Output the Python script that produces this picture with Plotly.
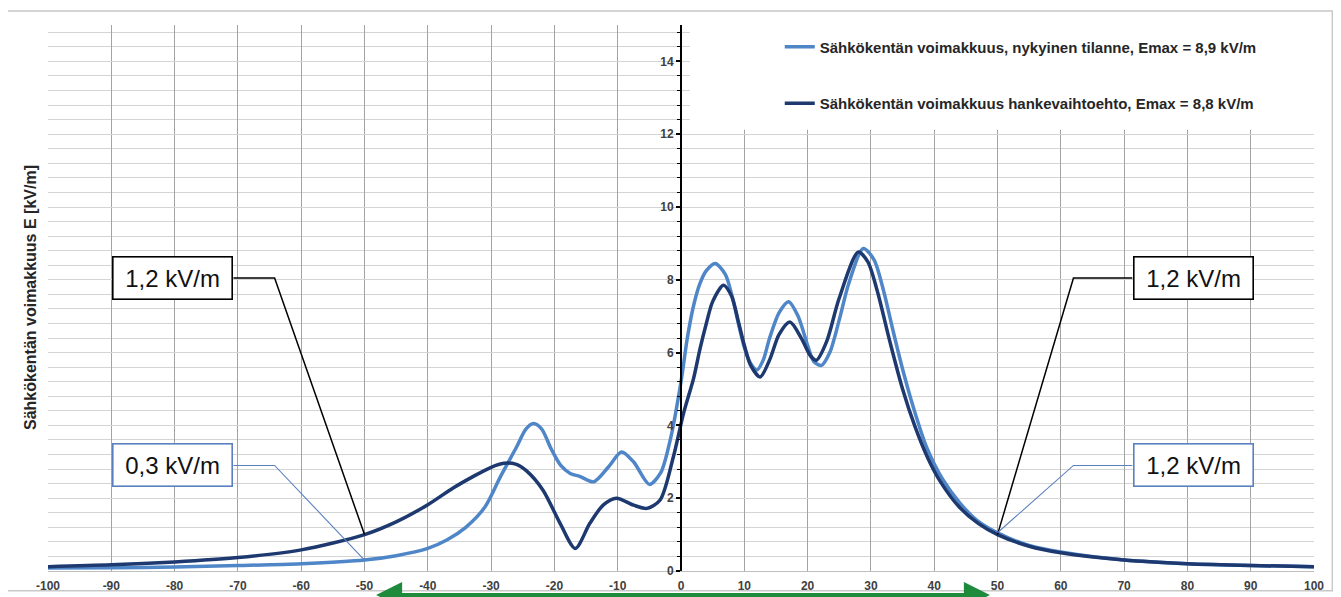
import plotly.graph_objects as go

# ---- data ----
x_current = [-100, -90, -80, -70, -60, -50, -45, -40, -37, -34, -31, -28.5, -26, -24.5, -23.3, -22, -20.5,
             -19, -17.5, -16, -13.8, -11.5, -9.4, -7.5, -5, -3.2, -1.7, 0, 1, 2, 3, 4, 5.4, 7, 8, 9, 10,
             11, 12, 13, 14, 15.5, 17, 18.5, 20, 21, 22.2, 23.5, 25, 26.5, 28.8, 30.5, 32, 33.5, 35, 36.7,
             38.8, 41.4, 44.1, 46.7, 50, 55, 60, 70, 80, 90, 100]
e_current = [0.08, 0.09, 0.11, 0.15, 0.2, 0.3, 0.42, 0.62, 0.85, 1.2, 1.75, 2.6, 3.4, 3.9, 4.05, 3.9, 3.35,
             2.9, 2.68, 2.6, 2.45, 2.85, 3.27, 3.0, 2.38, 2.7, 3.6, 5.2, 6.4, 7.3, 7.9, 8.25, 8.45, 8.15, 7.6,
             6.85, 6.15, 5.7, 5.52, 5.8, 6.4, 7.1, 7.4, 7.0, 6.2, 5.75, 5.65, 6.0, 6.9, 7.9, 8.86, 8.55, 7.7,
             6.6, 5.55, 4.5, 3.4, 2.5, 1.86, 1.4, 1.05, 0.7, 0.52, 0.3, 0.2, 0.15, 0.12]

x_project = [-100, -90, -80, -70, -60, -50, -45, -40, -36, -32.8, -30, -28, -26, -24.4, -21.8, -19.1, -16.7,
             -14.4, -12.3, -10.2, -7.5, -5.4, -3.3, -1.2, 0.4, 2, 3, 4, 5, 6.7, 8, 9, 10, 11, 12.5, 14, 15.5,
             17.2, 19, 20.5, 21.4, 23, 25, 28, 29.5, 31, 33, 35, 37, 39, 41, 44, 47, 50, 55, 60, 70, 80, 90, 100]
e_project = [0.12, 0.17, 0.25, 0.37, 0.58, 1.0, 1.35, 1.82, 2.28, 2.6, 2.85, 2.96, 2.93, 2.75, 2.22, 1.31, 0.62,
             1.31, 1.81, 2.0, 1.81, 1.72, 1.95, 3.14, 4.33, 5.3, 6.1, 6.8, 7.4, 7.85, 7.55, 6.9, 6.2, 5.65, 5.33,
             5.8, 6.5, 6.84, 6.4, 5.9, 5.79, 6.3, 7.5, 8.76, 8.5, 7.7, 6.3, 5.0, 3.95, 3.1, 2.45, 1.75, 1.3,
             1.0, 0.68, 0.5, 0.3, 0.2, 0.15, 0.12]

name_current = "Sähkökentän voimakkuus, nykyinen tilanne, Emax = 8,9 kV/m"
name_project = "Sähkökentän voimakkuus hankevaihtoehto, Emax = 8,8 kV/m"
y_title = "Sähkökentän voimakkuus E [kV/m]"

x_ticks = list(range(-100, 101, 10))
y_ticks = list(range(0, 15, 2))

callout_labels = ["1,2 kV/m", "0,3 kV/m", "1,2 kV/m", "1,2 kV/m"]

C_LIGHT = "#4f86c8"
C_DARK = "#1d3970"
C_BOXBLUE = "#5b80c0"
FONT = "Liberation Sans, Arial"

fig = go.Figure()
fig.add_trace(go.Scatter(x=x_current, y=e_current, mode="lines", name=name_current,
                         line=dict(color=C_LIGHT, width=3.5, shape="spline", smoothing=0.8),
                         legendgroup="a"))
fig.add_trace(go.Scatter(x=x_project, y=e_project, mode="lines", name=name_project,
                         line=dict(color=C_DARK, width=3.5, shape="spline", smoothing=0.8),
                         legendgroup="b"))


def val(xs, es, xv):
    return es[xs.index(xv)]


callouts = [
    (callout_labels[0], -50, val(x_project, e_project, -50), -80.3, 8.05, -64.2, "#000000", 1.5),
    (callout_labels[1], -50, val(x_current, e_current, -50), -80.3, 2.9, -64.2, C_BOXBLUE, 1.1),
    (callout_labels[2], 50, val(x_project, e_project, 50), 80.9, 8.05, 62.0, "#000000", 1.5),
    (callout_labels[3], 50, val(x_current, e_current, 50), 80.9, 2.9, 62.0, C_BOXBLUE, 1.1),
]

shapes = []
annotations = []
for text, px, py, bx, by, ex, col, lw in callouts:
    side = -1 if bx < 0 else 1
    edge = bx - side * 9.6
    shapes.append(dict(type="path", xref="x", yref="y",
                       path=f"M {edge},{by} L {ex},{by} L {px},{py}",
                       line=dict(color=col, width=lw)))
    annotations.append(dict(x=bx, y=by, xref="x", yref="y", text=text, showarrow=False,
                            font=dict(family=FONT, size=24, color="#111111"),
                            bgcolor="white", bordercolor=col, borderwidth=1.6, borderpad=2,
                            width=114, height=37, xanchor="center", yanchor="middle"))

# white legend area
shapes.append(dict(type="rect", xref="paper", yref="paper", x0=0.507, x1=1.003, y0=0.808, y1=1.01,
                   fillcolor="white", line=dict(width=0), layer="above"))
# outer chart frame
shapes.append(dict(type="rect", xref="paper", yref="paper", x0=-0.0332, x1=1.0145, y0=-0.036, y1=1.0256,
                   fillcolor="rgba(0,0,0,0)", line=dict(color="#c8c8c8", width=1.5), layer="below"))

# y title
annotations.append(dict(x=-0.0142, y=0.5, xref="paper", yref="paper", text=y_title, textangle=-90,
                        showarrow=False, xanchor="center", yanchor="middle",
                        font=dict(family=FONT, size=16, color="#262626", weight="bold")))
# green double arrow below axis
annotations.append(dict(x=48.8, y=-0.044, xref="x", yref="paper", ax=-48.4, ay=0, axref="x", ayref="pixel",
                        text="", showarrow=True, arrowhead=2, arrowside="end+start", arrowsize=1.3,
                        arrowwidth=4, arrowcolor="#1e8a3c"))

fig.update_layout(
    width=1333, height=589,
    margin=dict(l=40, r=27, t=17, b=26, autoexpand=False),
    paper_bgcolor="white", plot_bgcolor="white",
    showlegend=True,
    legend=dict(x=0.578, y=0.99, xanchor="left", yanchor="top", bgcolor="rgba(0,0,0,0)",
                font=dict(family=FONT, size=15, color="#262626", weight="bold"),
                tracegroupgap=34, itemwidth=30),
    shapes=shapes, annotations=annotations,
    xaxis=dict(range=[-100, 100], tickvals=x_ticks, ticktext=[str(v) for v in x_ticks],
               automargin=False,
               showgrid=True, gridcolor="#a3a3a3", gridwidth=1.3, zeroline=False,
               showline=True, linecolor="#bfbfbf", linewidth=1.2,
               ticks="outside", ticklen=3, tickcolor="rgba(0,0,0,0)",
               tickfont=dict(family=FONT, size=12, color="#404040", weight="bold")),
    yaxis=dict(range=[0, 15], tickvals=y_ticks, ticktext=[str(v) for v in y_ticks],
               anchor="free", position=0.5, side="left", automargin=False,
               showgrid=True, gridcolor="#d4d4d4", gridwidth=1.2, zeroline=False,
               showline=True, linecolor="#000000", linewidth=2,
               ticks="outside", ticklen=4, tickcolor="#000000", tickwidth=1.5,
               minor=dict(dtick=0.4, tick0=0, showgrid=True, gridcolor="#d4d4d4", gridwidth=1.2,
                          ticks="outside", ticklen=3, tickcolor="#000000", tickwidth=1.2),
               tickfont=dict(family=FONT, size=12, color="#404040", weight="bold")),
)

fig.write_html("out.html")
